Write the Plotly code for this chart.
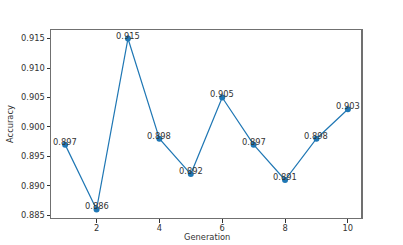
import plotly.graph_objects as go

generations = [1, 2, 3, 4, 5, 6, 7, 8, 9, 10]
accuracy = [0.897, 0.886, 0.915, 0.898, 0.892, 0.905, 0.897, 0.891, 0.898, 0.903]
x_ticks = [2, 4, 6, 8, 10]
y_ticks = [0.885, 0.890, 0.895, 0.900, 0.905, 0.910, 0.915]

FONT = "DejaVu Sans"
FS = 8.3
BLUE = "#1f77b4"
FRAME = "#707070"
TEXT = "#333333"

fig = go.Figure()
fig.add_trace(go.Scatter(
    x=generations, y=accuracy, mode="lines+markers",
    line=dict(color=BLUE, width=1.2),
    marker=dict(color=BLUE, size=6, symbol="circle"),
    showlegend=False, hoverinfo="skip",
))

for gx, acc in zip(generations, accuracy):
    fig.add_annotation(
        x=gx, y=acc, text=f"{acc:.3f}", showarrow=False,
        xanchor="center", yanchor="bottom", yshift=-3, borderpad=0,
        font=dict(family=FONT, size=FS, color=TEXT),
    )

# axis titles
fig.add_annotation(text="Generation", xref="paper", yref="paper", x=0.5, y=-0.1,
                   xanchor="center", yanchor="middle", showarrow=False, borderpad=0,
                   font=dict(family=FONT, size=FS, color=TEXT))
fig.add_annotation(text="Accuracy", xref="paper", yref="paper", x=-0.132, y=0.5,
                   xanchor="center", yanchor="middle", textangle=-90, showarrow=False,
                   font=dict(family=FONT, size=FS, color=TEXT))

# thicker right spine as in the reference
fig.add_shape(type="line", xref="paper", yref="paper", x0=1, x1=1, y0=0, y1=1,
              line=dict(color=FRAME, width=2))

pad_x = 0.05 * (max(generations) - min(generations))
pad_y = 0.05 * (max(accuracy) - min(accuracy))

fig.update_layout(
    width=403, height=245,
    margin=dict(l=51, r=41, t=30, b=27),
    paper_bgcolor="white", plot_bgcolor="white",
    font=dict(family=FONT, size=FS, color=TEXT),
    xaxis=dict(
        range=[min(generations) - pad_x, max(generations) + pad_x],
        tickvals=x_ticks, ticktext=[str(v) for v in x_ticks],
        showgrid=False, zeroline=False,
        showline=True, mirror=True, linecolor=FRAME, linewidth=1,
        ticks="outside", ticklen=3.5, tickwidth=0.8, tickcolor="#333333",
        ticklabelstandoff=-1,
        automargin=False,
    ),
    yaxis=dict(
        range=[min(accuracy) - pad_y, max(accuracy) + pad_y],
        tickvals=y_ticks, ticktext=[f"{v:.3f}" for v in y_ticks],
        showgrid=False, zeroline=False,
        showline=True, mirror=True, linecolor=FRAME, linewidth=1,
        ticks="outside", ticklen=3.5, tickwidth=0.8, tickcolor="#333333",
        automargin=False,
    ),
)

fig.write_html("out.html", config={"displayModeBar": False},
               post_script="document.body.style.margin='0';")
